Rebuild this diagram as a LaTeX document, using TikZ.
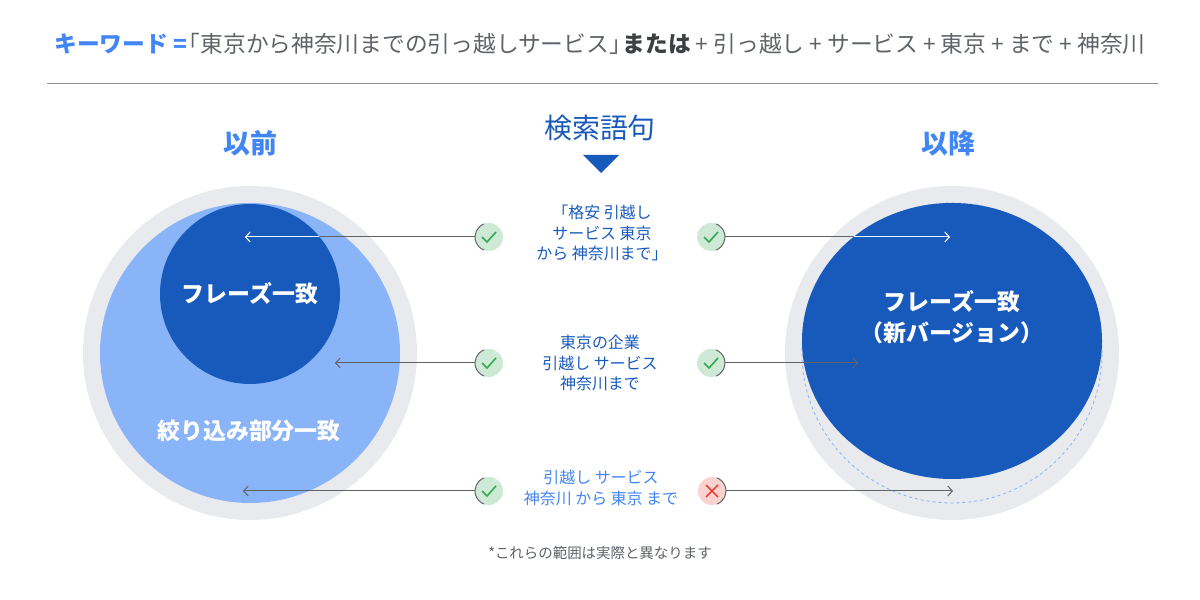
\documentclass[tikz,border=0pt]{standalone}
\usepackage{fontspec}
\setmainfont{Noto Sans CJK JP}
\usepackage{tikz}
\usetikzlibrary{arrows.meta,shapes}

\definecolor{ringgray}{HTML}{E8EAED}
\definecolor{lightblue}{HTML}{8AB4F8}
\definecolor{deepblue}{HTML}{185ABC}
\definecolor{keyblue}{HTML}{4285F4}
\definecolor{titlegray}{HTML}{5F6368}
\definecolor{titledark}{HTML}{3C4043}
\definecolor{linegray}{HTML}{5F6368}
\definecolor{okfill}{HTML}{CEEAD6}
\definecolor{okgreen}{HTML}{34A853}
\definecolor{ngfill}{HTML}{FAD2CF}
\definecolor{ngred}{HTML}{EA4335}

\begin{document}
\begin{tikzpicture}[
  ring/.style={circle,fill=ringgray,minimum size=334bp,inner sep=0pt},
  heading/.style={font=\fontsize{27}{30}\selectfont\bfseries,text=keyblue},
  whitetxt/.style={font=\fontsize{23}{31}\selectfont\bfseries,text=white,align=center},
  querytxt/.style={font=\fontsize{16}{21}\selectfont,align=center},
  okicon/.style={circle,fill=okfill,minimum size=28bp,inner sep=0pt,outer sep=0pt},
  ngicon/.style={circle,fill=ngfill,minimum size=28bp,inner sep=0pt,outer sep=0pt},
  arcline/.style={draw=linegray,line width=1bp},
  tickline/.style={draw=okgreen,line width=1.6bp},
  crossline/.style={draw=ngred,line width=1.6bp},
  conn/.style={-{Straight Barb[length=4.5bp,width=10bp]},draw=linegray,line width=1bp},
  dashedring/.style={draw=lightblue,dashed,line width=0.8bp}]
\useasboundingbox (0bp,0bp) rectangle (1200bp,600bp);

% title and rule
\node (title) at (600bp,556bp) [font=\fontsize{22.8}{26}\selectfont,text=titlegray] {{\color{keyblue}\bfseries キーワード =}\kern-0.4em「東京から神奈川までの引っ越しサービス」\kern-0.4em{\bfseries\color{titledark}または} + 引っ越し + サービス + 東京 + まで + 神奈川};
\coordinate (ruleL) at (47bp,516bp);
\coordinate (ruleR) at (1158bp,516bp);
\draw [draw=titlegray!70,line width=1bp] (ruleL) -- (ruleR);

\node (before) at (250bp,457bp) [heading] {以前};
\node (after) at (948bp,457bp) [heading] {以降};
\node (query) at (600bp,472bp) [font=\fontsize{28}{32}\selectfont,text=deepblue] {検索語句};
\fill [deepblue] (583bp,445bp) -- (619bp,445bp) -- (601bp,427bp) -- cycle;

% left circles
\node (ringL) at (250bp,247bp) [ring] {};
\node (broad) at (250bp,247bp) [circle,fill=lightblue,minimum size=300bp,inner sep=0pt] {};
\node (phraseL) at (250bp,306bp) [circle,fill=deepblue,minimum size=180bp,inner sep=0pt,whitetxt] {フレーズ一致};
\node (broadtxt) at (249bp,169bp) [whitetxt] {絞り込み部分一致};

% right circles
\node (ringR) at (952bp,247bp) [ring] {};
\draw [dashedring] (ringR.center) circle (150bp);
\node (phraseR) at (952bp,259bp) [ellipse,fill=deepblue,minimum width=300bp,minimum height=276bp,inner sep=0pt] {};
\node (phraseRtxt) at (952bp,283bp) [whitetxt] {フレーズ一致\\（新バージョン）};

% queries
\node (q1) at (602bp,367bp) [querytxt,text=deepblue] {「格安 引越し\\サービス 東京\\から 神奈川まで」};
\node (q2) at (600bp,237bp) [querytxt,text=deepblue] {東京の企業\\引越し サービス\\神奈川まで};
\node (q3) at (601bp,112bp) [querytxt,text=keyblue] {引越し サービス\\神奈川 から 東京 まで};

% icons
\node (okL1) at (489bp,363bp) [okicon] {};
\node (okL2) at (489bp,237bp) [okicon] {};
\node (okL3) at (489bp,109bp) [okicon] {};
\node (okR1) at (711bp,363bp) [okicon] {};
\node (okR2) at (711bp,237bp) [okicon] {};
\node (ngR3) at (712bp,109bp) [ngicon] {};
\draw [arcline] (okL1.110) arc (110:250:14bp);
\draw [arcline] (okL2.110) arc (110:250:14bp);
\draw [arcline] (okL3.110) arc (110:250:14bp);
\draw [arcline] (okR1.-70) arc (-70:70:14bp);
\draw [arcline] (okR2.-70) arc (-70:70:14bp);
\draw [arcline] (ngR3.-70) arc (-70:70:14bp);
\draw [tickline] ([shift={(-7bp,0bp)}]okL1.center) -- ++(5bp,-5bp) -- ++(9bp,10bp);
\draw [tickline] ([shift={(-7bp,0bp)}]okL2.center) -- ++(5bp,-5bp) -- ++(9bp,10bp);
\draw [tickline] ([shift={(-7bp,0bp)}]okL3.center) -- ++(5bp,-5bp) -- ++(9bp,10bp);
\draw [tickline] ([shift={(-7bp,0bp)}]okR1.center) -- ++(5bp,-5bp) -- ++(9bp,10bp);
\draw [tickline] ([shift={(-7bp,0bp)}]okR2.center) -- ++(5bp,-5bp) -- ++(9bp,10bp);
\draw [crossline] ([shift={(-6bp,-6bp)}]ngR3.center) -- ++(12bp,12bp);
\draw [crossline] ([shift={(-6bp,6bp)}]ngR3.center) -- ++(12bp,-12bp);

% connectors
\coordinate (L1end) at (245bp,363bp);
\coordinate (L2end) at (335bp,237bp);
\coordinate (L3end) at (243bp,109bp);
\coordinate (R1end) at (950bp,363bp);
\coordinate (R2end) at (858bp,237bp);
\coordinate (R3end) at (953bp,109bp);
\draw [conn] (okL1) -- (L1end);
\draw [conn] (okL2) -- (L2end);
\draw [conn] (okL3) -- (L3end);
\draw [conn] (okR1) -- (R1end);
\draw [conn] (okR2) -- (R2end);
\draw [conn] (ngR3) -- (R3end);
\begin{scope}
\clip (phraseL.center) circle (90bp);
\draw [conn,draw=white] (okL1) -- (L1end);
\end{scope}
\begin{scope}
\clip (phraseR.center) ellipse (150bp and 138bp);
\draw [conn,draw=white] (okR1) -- (R1end);
\end{scope}

\node (note) at (600bp,47bp) [font=\fontsize{14.5}{17}\selectfont,text=titlegray] {*これらの範囲は実際と異なります};
\end{tikzpicture}
\end{document}
